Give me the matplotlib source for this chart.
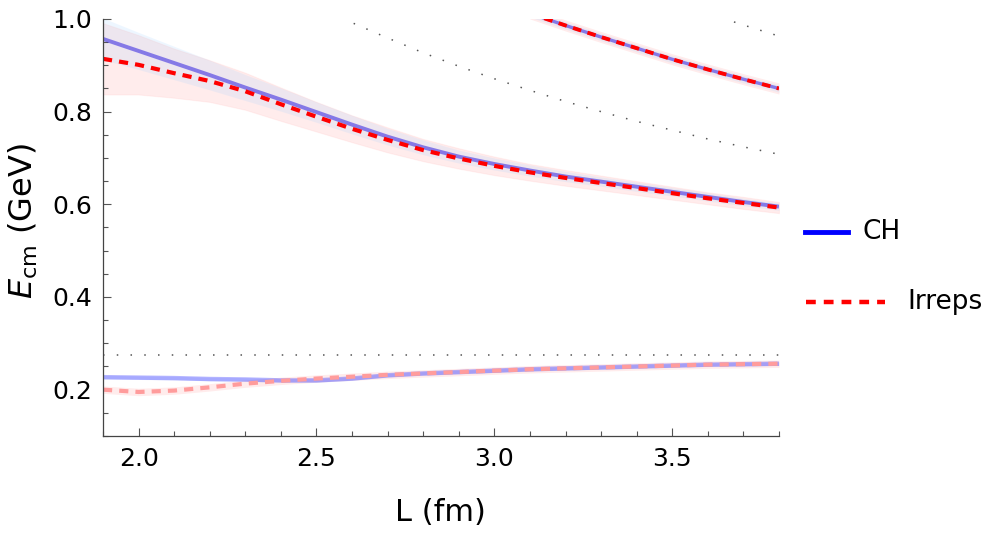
import matplotlib
matplotlib.use("Agg")
import matplotlib.pyplot as plt
from matplotlib.lines import Line2D
from matplotlib.ticker import MultipleLocator
import numpy as np

# box sizes L (fm)
L = [1.9, 2.0, 2.1, 2.2, 2.3, 2.4, 2.5, 2.6, 2.7, 2.8,
     2.9, 3.0, 3.1, 3.2, 3.3, 3.4, 3.5, 3.6, 3.7, 3.8]

# lowest level (GeV)
ch_1 = [0.227, 0.226, 0.225, 0.223, 0.222, 0.220, 0.220, 0.224, 0.231, 0.235,
        0.238, 0.241, 0.244, 0.246, 0.248, 0.250, 0.252, 0.254, 0.255, 0.256]
irr_1 = [0.200, 0.195, 0.198, 0.205, 0.213, 0.219, 0.224, 0.228, 0.232, 0.235,
         0.238, 0.241, 0.244, 0.246, 0.248, 0.250, 0.252, 0.254, 0.255, 0.256]

# second level
ch_2 = [0.957, 0.931, 0.905, 0.879, 0.852, 0.826, 0.799, 0.772, 0.746, 0.723,
        0.703, 0.687, 0.673, 0.660, 0.649, 0.638, 0.627, 0.616, 0.605, 0.595]
irr_2 = [0.914, 0.901, 0.883, 0.866, 0.844, 0.816, 0.789, 0.763, 0.739, 0.717,
         0.699, 0.683, 0.669, 0.657, 0.646, 0.635, 0.624, 0.613, 0.603, 0.593]
ch_2_err = [0.045, 0.040, 0.036, 0.032, 0.028, 0.025, 0.022, 0.020, 0.018, 0.016,
            0.014, 0.013, 0.012, 0.011, 0.010, 0.010, 0.009, 0.009, 0.008, 0.008]
irr_2_err = [0.077, 0.064, 0.053, 0.045, 0.040, 0.036, 0.032, 0.029, 0.027, 0.024,
             0.022, 0.020, 0.018, 0.017, 0.016, 0.015, 0.014, 0.013, 0.013, 0.012]

# third level
L3 = [3.1, 3.2, 3.3, 3.4, 3.5, 3.6, 3.7, 3.8]
ch_3 = [1.012, 0.986, 0.961, 0.937, 0.913, 0.891, 0.870, 0.850]
irr_3 = [1.012, 0.986, 0.961, 0.937, 0.913, 0.891, 0.870, 0.850]

# non-interacting levels
threshold = 0.274
free1_L = [2.5, 2.6, 2.7, 2.8, 2.9, 3.0, 3.1, 3.2, 3.3, 3.4, 3.5, 3.6, 3.7, 3.8]
free1 = [1.029, 0.992, 0.959, 0.927, 0.898, 0.871, 0.846, 0.822, 0.800, 0.779,
         0.760, 0.741, 0.724, 0.708]
free2_L = [3.6, 3.7, 3.8]
free2 = [1.012, 0.987, 0.963]

fig = plt.figure(figsize=(9.96, 5.33), dpi=100)
ax = fig.add_axes([0.1034, 0.182, 0.6787, 0.7824])

Lr = np.array(L)
L3r = np.array(L3)

# bands
ax.fill_between(Lr, np.array(irr_2) - irr_2_err, np.array(irr_2) + irr_2_err,
                color='#ff8080', alpha=0.15, lw=0.8, edgecolor='#ffb0b0')
ax.fill_between(Lr, np.array(ch_2) - ch_2_err, np.array(ch_2) + ch_2_err,
                color='#9fd0ff', alpha=0.18, lw=0)
ax.fill_between(Lr, np.array(irr_1) - 0.008, np.array(irr_1) + 0.008,
                color='#ff8080', alpha=0.15, lw=0)
ax.fill_between(Lr, np.array(ch_1) - 0.004, np.array(ch_1) + 0.004,
                color='#9fb0ff', alpha=0.25, lw=0)
ax.fill_between(L3r, np.array(irr_3) - 0.012, np.array(irr_3) + 0.012,
                color='#ff8080', alpha=0.15, lw=0)
ax.fill_between(L3r, np.array(ch_3) - 0.008, np.array(ch_3) + 0.008,
                color='#9fd0ff', alpha=0.18, lw=0)

# free levels
dot = dict(color='#555555', lw=1.1, linestyle=(0, (1, 8)))
ax.axhline(threshold, **dot)
ax.plot(free1_L, free1, **dot)
ax.plot(free2_L, free2, **dot)

# CH
ax.plot(L, ch_1, color='blue', alpha=0.28, lw=3.2, solid_capstyle='butt')
ax.plot(L, ch_2, color='#3020e0', alpha=0.55, lw=2.8, solid_capstyle='butt')
ax.plot(L3, ch_3, color='#3020e0', alpha=0.55, lw=2.4, solid_capstyle='butt')

# Irreps
ax.plot(L, irr_1, color='#ff9c9c', lw=3.0, linestyle=(0, (2.2, 1.7)))
ax.plot(L, irr_2, color='red', lw=3.0, linestyle=(0, (2.2, 1.7)))
ax.plot(L3, irr_3, color='red', lw=2.8, linestyle=(0, (2.2, 1.7)))

ax.set_xlim(1.9, 3.8)
ax.set_ylim(0.1, 1.0)
ax.xaxis.set_major_locator(MultipleLocator(0.5))
ax.xaxis.set_minor_locator(MultipleLocator(0.1))
ax.yaxis.set_major_locator(MultipleLocator(0.2))
ax.yaxis.set_minor_locator(MultipleLocator(0.05))
ax.set_yticks([0.2, 0.4, 0.6, 0.8, 1.0])
ax.set_xticks([2.0, 2.5, 3.0, 3.5])
ax.tick_params(which='both', direction='in', colors='#555555', labelcolor='black',
               labelsize=18, width=0.8)
ax.tick_params(which='major', length=6, pad=8)
ax.tick_params(which='minor', length=3.5)
for side in ['top', 'right']:
    ax.spines[side].set_visible(False)
for side in ['left', 'bottom']:
    ax.spines[side].set_color('#444444')
    ax.spines[side].set_linewidth(0.9)

fig.text(0.4418, 0.039, 'L (fm)', fontsize=22, ha='center', va='center')
fig.text(0.023, 0.585, r'$E_{\mathrm{cm}}$ (GeV)', fontsize=23, ha='center',
         va='center', rotation=90)

# legend drawn by hand (different sample lengths)
fig.add_artist(Line2D([805 / 996, 848 / 996], [0.5647, 0.5647], color='blue', lw=3.5,
                      transform=fig.transFigure))
fig.text(862 / 996, 0.5647, 'CH', fontsize=19, va='center', ha='left')
fig.add_artist(Line2D([806 / 996, 885 / 996], [0.4334, 0.4334], color='red', lw=3.2,
                      linestyle=(0, (2.2, 1.8)), transform=fig.transFigure))
fig.text(907 / 996, 0.4334, 'Irreps', fontsize=19, va='center', ha='left')

fig.savefig('out.png', dpi=100)
